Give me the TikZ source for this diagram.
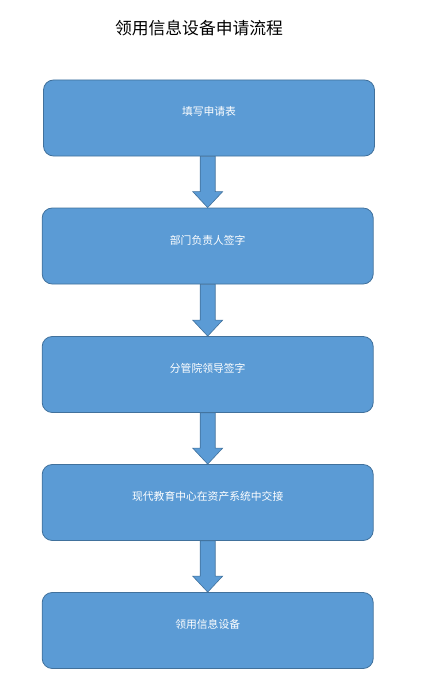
\documentclass[tikz,border=0pt]{standalone}
\usepackage{fontspec}
\setmainfont{Noto Sans CJK SC}
\usetikzlibrary{calc}
\definecolor{boxblue}{HTML}{5B9BD5}
\definecolor{boxedge}{HTML}{41719C}
\def\flowarr#1#2{\draw[fat] ($(#2.north |- #1.south)+(-7.5pt,0)$) -- ($(#2.north)+(-7.5pt,16pt)$) -- ($(#2.north)+(-15pt,16pt)$) -- (#2.north) -- ($(#2.north)+(15pt,16pt)$) -- ($(#2.north)+(7.5pt,16pt)$) -- ($(#2.north |- #1.south)+(7.5pt,0)$) -- cycle;}
\begin{document}
\begin{tikzpicture}[
			stepbox/.style={rectangle,draw=boxedge,fill=boxblue,line width=0.8pt,rounded corners=10pt,
				minimum width=331pt,minimum height=76pt,text=white,font=\fontsize{10.8}{12}\selectfont,
				text height=8pt,text depth=12pt},
			fat/.style={draw=boxedge,fill=boxblue,line width=0.6pt},
			titl/.style={font=\fontsize{16.8}{20}\selectfont}]
			\useasboundingbox (0,0) rectangle (422pt,-690pt);
			\node [titl]		(title)		at (199pt,-28pt)		{领用信息设备申请流程};
			\node [stepbox]		(fill)		at (209pt,-118pt)		{填写申请表};
			\node [stepbox]		(dept)		at (207.7pt,-246pt)		{部门负责人签字};
			\node [stepbox]		(lead)		at (207.7pt,-374.5pt)	{分管院领导签字};
			\node [stepbox]		(hand)		at (207.7pt,-502.5pt)	{现代教育中心在资产系统中交接};
			\node [stepbox]		(take)		at (207.7pt,-630.5pt)	{领用信息设备};
			\flowarr{fill}{dept}
			\flowarr{dept}{lead}
			\flowarr{lead}{hand}
			\flowarr{hand}{take}
		\end{tikzpicture}
\end{document}
